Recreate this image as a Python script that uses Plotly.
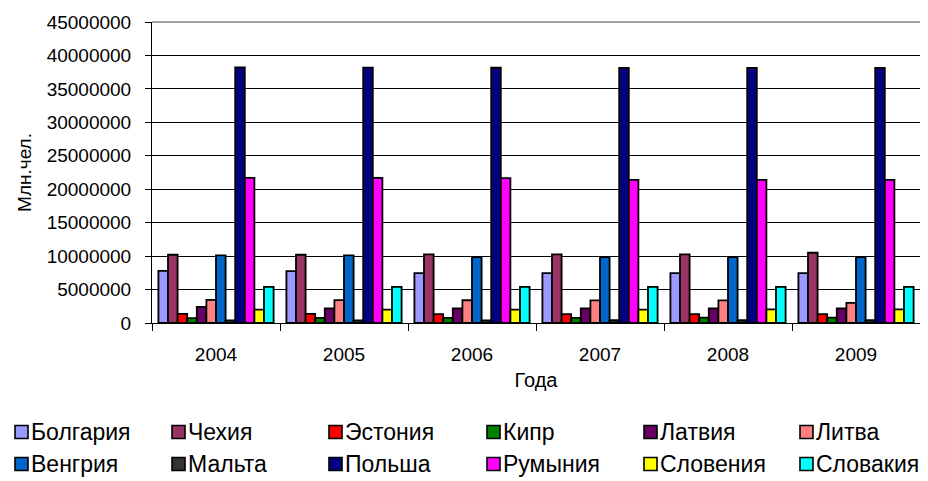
import plotly.graph_objects as go

years = ["2004", "2005", "2006", "2007", "2008", "2009"]
countries = ["Болгария", "Чехия", "Эстония", "Кипр", "Латвия", "Литва",
             "Венгрия", "Мальта", "Польша", "Румыния", "Словения", "Словакия"]
colors = ["#9999FF", "#993366", "#FF0000", "#008000", "#660066", "#FF8080",
          "#0066CC", "#333333", "#000080", "#FF00FF", "#FFFF00", "#00FFFF"]

bulgaria = [7800000, 7760000, 7450000, 7450000, 7450000, 7450000]
czech = [10200000, 10200000, 10250000, 10250000, 10250000, 10500000]
estonia = [1350000, 1350000, 1340000, 1340000, 1340000, 1340000]
cyprus = [730000, 750000, 770000, 780000, 790000, 800000]
latvia = [2400000, 2200000, 2200000, 2200000, 2200000, 2200000]
lithuania = [3450000, 3430000, 3400000, 3380000, 3370000, 3000000]
hungary = [10100000, 10100000, 9850000, 9850000, 9850000, 9850000]
malta = [400000, 400000, 400000, 410000, 410000, 410000]
poland = [38200000, 38170000, 38160000, 38130000, 38120000, 38140000]
romania = [21700000, 21680000, 21660000, 21400000, 21400000, 21400000]
slovenia = [2000000, 2000000, 2000000, 2010000, 2030000, 2030000]
slovakia = [5400000, 5400000, 5400000, 5400000, 5400000, 5400000]

series = [bulgaria, czech, estonia, cyprus, latvia, lithuania,
          hungary, malta, poland, romania, slovenia, slovakia]

y_ticks = [0, 5000000, 10000000, 15000000, 20000000, 25000000,
           30000000, 35000000, 40000000, 45000000]
y_ticktext = [str(v) for v in y_ticks]

FONT = "Arial, Liberation Sans, sans-serif"
# page has an 8px body margin, so the figure is 8px smaller than the window
OFF = 8
W, H = 928 - OFF, 481 - OFF
ML, MR, MT, MB = 152 - OFF, 8, 22 - OFF, 158

fig = go.Figure()
for name, vals, col in zip(countries, series, colors):
    fig.add_trace(go.Bar(
        x=years, y=vals, name=name,
        marker=dict(color=col, line=dict(color="#000000", width=1.8)),
        showlegend=False,
    ))

fig.update_layout(
    width=W, height=H,
    margin=dict(l=ML, r=MR, t=MT, b=MB, autoexpand=False),
    paper_bgcolor="white", plot_bgcolor="white",
    barmode="group", bargap=0.1, bargroupgap=0,
    font=dict(family=FONT, color="#000000"),
)

fig.update_xaxes(
    type="category", tickson="boundaries",
    ticks="outside", ticklen=7, tickcolor="#000000", tickwidth=1,
    showline=True, linecolor="#000000", linewidth=1,
    showgrid=False,
    tickfont=dict(size=19), ticklabelstandoff=14,
    title=dict(text="Года", font=dict(size=20), standoff=9),
)
fig.update_yaxes(
    range=[0, 45000000],
    tickvals=y_ticks, ticktext=y_ticktext,
    ticks="outside", ticklen=6, tickcolor="#000000", tickwidth=1,
    showline=True, linecolor="#000000", linewidth=1,
    showgrid=True, gridcolor="#000000", gridwidth=1,
    zeroline=False,
    tickfont=dict(size=19), ticklabelstandoff=10,
    title=dict(text="Млн.чел.", font=dict(size=19), standoff=10),
)

# top border line of plot area (grey)
fig.add_shape(type="line", xref="paper", yref="paper", x0=0, x1=1, y0=1, y1=1,
              line=dict(color="#808080", width=1.5))

# manual legend (two rows x six columns), positions in window pixels
pw = W - ML - MR
ph = H - MT - MB
col_px = [15, 172, 329, 487, 644, 800]
row_px = [432, 464]
sq = 13
for i, (name, col) in enumerate(zip(countries, colors)):
    r, c = divmod(i, 6)
    px0 = col_px[c] - OFF
    py = row_px[r] - OFF
    x0 = (px0 - ML) / pw
    x1 = (px0 + sq - ML) / pw
    y0 = (H - MB - (py + sq / 2)) / ph
    y1 = (H - MB - (py - sq / 2)) / ph
    fig.add_shape(type="rect", xref="paper", yref="paper",
                  x0=x0, x1=x1, y0=y0, y1=y1,
                  fillcolor=col, line=dict(color="#000000", width=1.6))
    fig.add_annotation(
        xref="paper", yref="paper",
        x=(px0 + sq + 1 - ML) / pw, y=(H - MB - py) / ph,
        text=name, showarrow=False, xanchor="left", yanchor="middle",
        font=dict(size=23, family=FONT, color="#000000"),
    )

fig.write_html("out.html")
